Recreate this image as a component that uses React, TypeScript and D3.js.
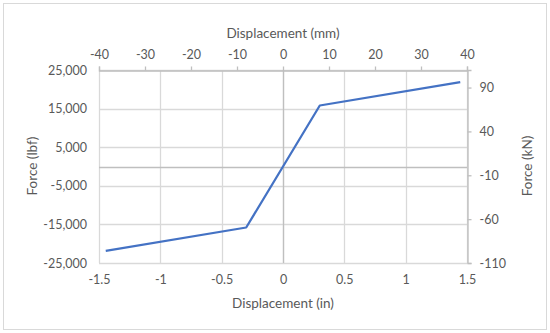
import React, { useEffect, useRef } from 'react';
import * as d3 from 'd3';

// force vs displacement (bilinear)
const dispIn = [-1.445, -0.3, 0.3, 1.445];
const forceLbf = [-21850, -15800, 15800, 21850];

const bottomTicks = [-1.5, -1, -0.5, 0, 0.5, 1, 1.5];
const topTicks = [-40, -30, -20, -10, 0, 10, 20, 30, 40];
const leftTicks = [-25000, -15000, -5000, 5000, 15000, 25000];
const rightTicks = [-110, -60, -10, 40, 90];

const hyphen = (s: string) => s.replace('\u2212', '-');

export default function App() {
  const ref = useRef<SVGSVGElement>(null);

  useEffect(() => {
    const width = 550;
    const height = 333;
    const left = 99, right = 467, top = 70, bottom = 263;
    const font = 'Lato, "Open Sans", sans-serif';
    const textColor = '#595959';
    const grid = '#d9d9d9';
    const axisLine = '#bfbfbf';

    const svg = d3.select(ref.current);
    svg.selectAll('*').remove();

    svg.append('rect')
      .attr('x', 3.5).attr('y', 3.5)
      .attr('width', width - 7).attr('height', height - 7)
      .attr('fill', '#fff').attr('stroke', grid);

    /* Scales */
    const x = d3.scaleLinear().domain([-1.5, 1.5]).range([left, right]);
    const xTop = d3.scaleLinear().domain([-40, 40]).range([left, right]);
    const y = d3.scaleLinear().domain([-25000, 25000]).range([bottom, top]);
    const yRight = d3.scaleLinear().domain([-110, 110]).range([bottom, top]);

    /* Gridlines */
    const g = svg.append('g');
    g.selectAll('.vgrid').data(bottomTicks).enter().append('line')
      .attr('x1', d => Math.round(x(d)) + 0.5).attr('x2', d => Math.round(x(d)) + 0.5)
      .attr('y1', top).attr('y2', bottom)
      .attr('stroke', grid).attr('stroke-width', 1.3);
    g.selectAll('.hgrid').data(leftTicks).enter().append('line')
      .attr('x1', left).attr('x2', right)
      .attr('y1', d => Math.round(y(d)) + 0.5).attr('y2', d => Math.round(y(d)) + 0.5)
      .attr('stroke', grid).attr('stroke-width', 1.3);

    // axis lines crossing at zero
    g.append('line')
      .attr('x1', left).attr('x2', right)
      .attr('y1', Math.round(y(0)) + 0.5).attr('y2', Math.round(y(0)) + 0.5)
      .attr('stroke', axisLine).attr('stroke-width', 1.3);
    g.append('line')
      .attr('x1', Math.round(x(0)) + 0.5).attr('x2', Math.round(x(0)) + 0.5)
      .attr('y1', top).attr('y2', bottom)
      .attr('stroke', axisLine).attr('stroke-width', 1.3);

    /* Top and right axes (secondary) */
    const topAxis = d3.axisTop(xTop).tickValues(topTicks).tickSize(4).tickPadding(8).tickFormat(d => String(d));
    const ta = svg.append('g').attr('transform', `translate(0, ${top + 0.5})`).call(topAxis);

    const rightAxis = d3.axisRight(yRight).tickValues(rightTicks).tickSize(4).tickPadding(8).tickFormat(d => String(d));
    const ra = svg.append('g').attr('transform', `translate(${right + 0.5}, 0)`).call(rightAxis);

    /* Bottom and left axes (labels only) */
    const bottomAxis = d3.axisBottom(x).tickValues(bottomTicks).tickSize(0).tickPadding(12).tickFormat(d => String(d));
    const ba = svg.append('g').attr('transform', `translate(0, ${bottom})`).call(bottomAxis);

    const leftAxis = d3.axisLeft(y).tickValues(leftTicks).tickSize(0).tickPadding(12)
      .tickFormat(d => hyphen(d3.format(',')(d as number)));
    const la = svg.append('g').attr('transform', `translate(${left}, 0)`).call(leftAxis);

    [ta, ra, ba, la].forEach(a => {
      a.select('.domain').attr('stroke', axisLine).attr('stroke-width', 1.3);
      a.selectAll('.tick line').attr('stroke', axisLine).attr('stroke-width', 1.3);
      a.selectAll('text').attr('fill', textColor).style('font-family', font).style('font-size', '12.5px');
    });
    ba.select('.domain').remove();
    la.select('.domain').remove();

    /* Line */
    const line = d3.line<number>()
      .x((d, i) => x(dispIn[i]))
      .y(d => y(d));
    svg.append('path')
      .attr('d', line(forceLbf))
      .attr('fill', 'none')
      .attr('stroke', '#4472c4')
      .attr('stroke-width', 2.25)
      .attr('stroke-linejoin', 'round');

    /* Axis titles */
    const title = (tx: number, ty: number, text: string, rot = 0) => {
      svg.append('text')
        .attr('transform', `translate(${tx}, ${ty}) rotate(${rot})`)
        .attr('text-anchor', 'middle')
        .attr('dominant-baseline', 'central')
        .attr('fill', textColor)
        .style('font-family', font)
        .style('font-size', '13.5px')
        .text(text);
    };
    title(283, 33, 'Displacement (mm)');
    title(283, 303, 'Displacement (in)');
    title(32, 166, 'Force (lbf)', -90);
    title(527, 166, 'Force (kN)', -90);
  }, []);

  return (
    <svg ref={ref} width={550} height={333}
      style={{ position: 'absolute', left: 0, top: 0, background: '#fff' }} />
  );
}
